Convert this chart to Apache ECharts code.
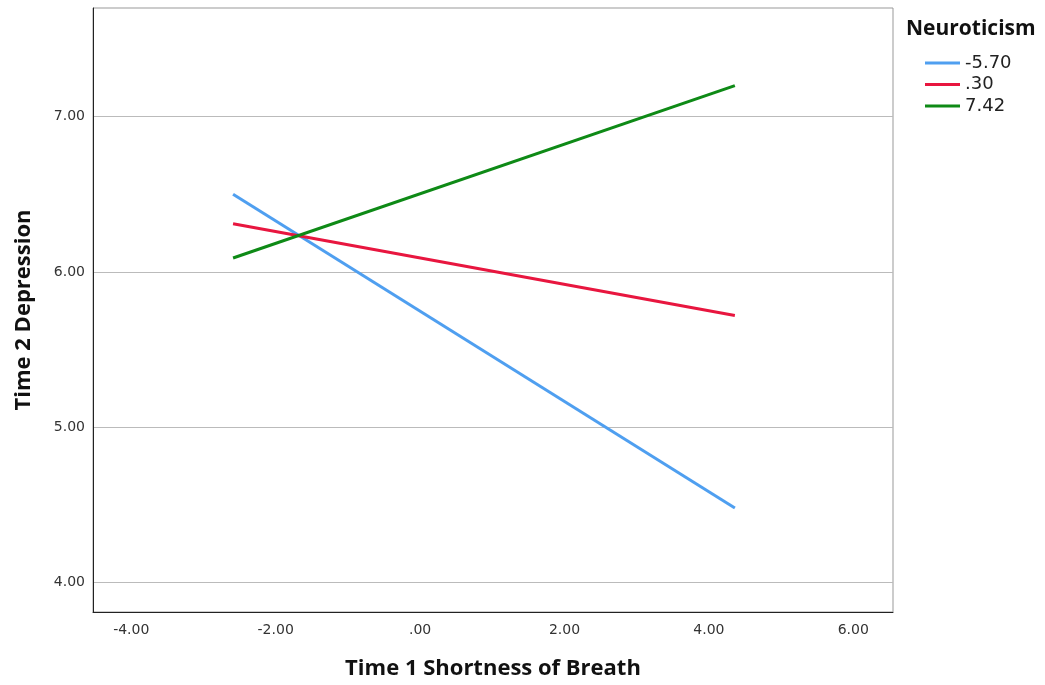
<!DOCTYPE html>
<html>
<head>
<meta charset="utf-8">
<script src="https://cdn.jsdelivr.net/npm/echarts@6/dist/echarts.min.js"></script>
<style>
  html, body { margin: 0; padding: 0; background: #fff; }
  #chart { width: 1045px; height: 685px; }
</style>
</head>
<body>
<div id="chart"></div>
<script>
// simple slopes: neuroticism levels
const groups = ['-5.70', '.30', '7.42']
const xStart = [-2.59, -2.59, -2.59]
const xEnd = [4.36, 4.36, 4.36]
const yStart = [6.50, 6.31, 6.09]
const yEnd = [4.48, 5.72, 7.20]
const colors = ['#4f9ff0', '#e8163f', '#0e8a16']
const xTicks = [-4, -2, 0, 2, 4, 6]
const yTicks = [4, 5, 6, 7]

const fmt = (v) => {
  const s = Math.abs(v).toFixed(2)
  const t = s.startsWith('0') ? s.slice(1) : s
  return v < 0 ? '-' + t : t
}

const numFont = '"DejaVu Sans", "Open Sans", sans-serif'
const titleFont = '"Open Sans", "DejaVu Sans", sans-serif'
const chart = echarts.init(document.getElementById('chart'))

const series = groups.map((g, i) => ({
  name: g,
  type: 'line',
  data: [[xStart[i], yStart[i]], [xEnd[i], yEnd[i]]],
  symbol: 'none',
  lineStyle: { color: colors[i], width: 3 },
  itemStyle: { color: colors[i] },
  silent: true
}))

chart.setOption({
  animation: false,
  title: {
    text: 'Neuroticism',
    left: 901,
    top: 14,
    textStyle: { fontFamily: titleFont, fontSize: 21, fontWeight: 'bold', color: '#111' }
  },
  legend: {
    left: 920,
    top: 49,
    orient: 'vertical',
    icon: 'rect',
    itemWidth: 35,
    itemHeight: 3,
    itemGap: 3.5,
    textStyle: { fontFamily: numFont, fontSize: 18, color: '#222' },
    data: groups
  },
  grid: {
    left: 93,
    right: 152,
    top: 8,
    bottom: 72,
    show: true,
    borderColor: '#999',
    borderWidth: 1
  },
  xAxis: {
    type: 'value',
    min: -4.53,
    max: 6.55,
    name: 'Time 1 Shortness of Breath',
    nameLocation: 'middle',
    nameGap: 46,
    nameTextStyle: { fontFamily: titleFont, fontSize: 22, fontWeight: 'bold', color: '#111' },
    axisLine: { onZero: false, lineStyle: { color: '#222', width: 1 } },
    axisTick: { show: false, customValues: xTicks },
    splitLine: { show: false },
    axisLabel: {
      customValues: xTicks,
      margin: 11,
      fontFamily: numFont,
      fontSize: 14,
      color: '#333',
      formatter: fmt
    }
  },
  yAxis: {
    type: 'value',
    min: 3.81,
    max: 7.70,
    name: 'Time 2 Depression',
    nameLocation: 'middle',
    nameGap: 58,
    nameTextStyle: { fontFamily: titleFont, fontSize: 22, fontWeight: 'bold', color: '#111' },
    axisLine: { show: true, onZero: false, lineStyle: { color: '#222', width: 1 } },
    axisTick: { show: false, customValues: yTicks },
    splitLine: { show: true, lineStyle: { color: '#bbb', width: 1 } },
    axisLabel: {
      customValues: yTicks,
      margin: 8,
      fontFamily: numFont,
      fontSize: 14,
      color: '#333',
      formatter: fmt
    }
  },
  series: series
})

window.addEventListener('resize', () => chart.resize())
</script>
</body>
</html>
